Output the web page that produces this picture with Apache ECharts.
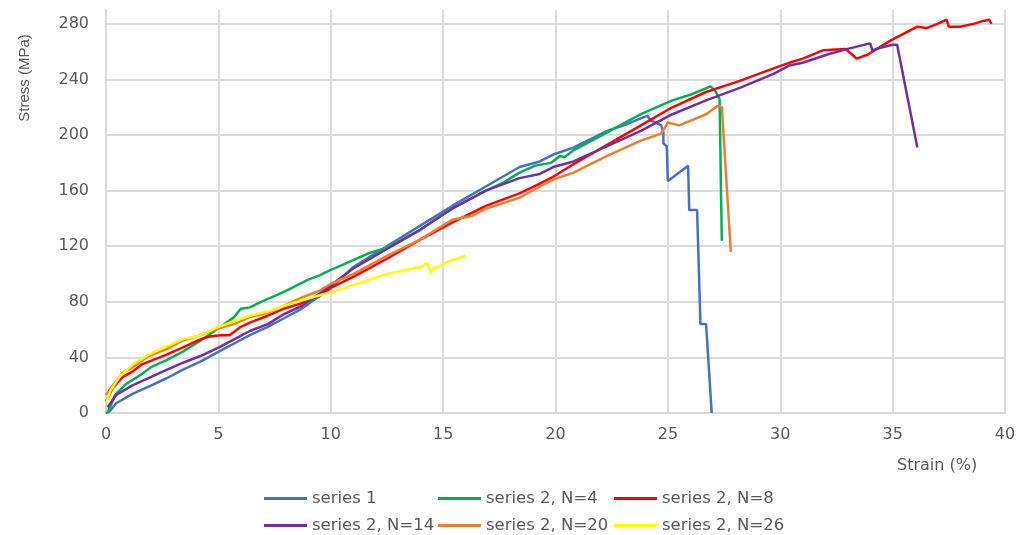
<!DOCTYPE html>
<html>
<head>
<meta charset="utf-8">
<script src="https://cdn.jsdelivr.net/npm/echarts@6/dist/echarts.min.js"></script>
<style>
html,body{margin:0;padding:0;background:#fff;}
#chart{width:1027px;height:535px;}
</style>
</head>
<body>
<div id="chart"></div>
<script>
// ---- data: [strain %, stress MPa] ----
const seriesNames = ['series 1', 'series 2, N=4', 'series 2, N=8', 'series 2, N=14', 'series 2, N=20', 'series 2, N=26'];
const xTicks = [0, 5, 10, 15, 20, 25, 30, 35, 40];
const yTicks = [0, 40, 80, 120, 160, 200, 240, 280];

const s1 = [[0,0],[0.15,1],[0.45,7],[1.2,14],[1.9,19],[2.7,25],[3.4,31],[4.2,37],[5,44],[5.7,50],[6.4,56],[7.2,62],[7.9,68],[8.7,75],[9.5,84],[10,90],[11,105],[12.5,120],[14,135],[15.4,149],[16.9,163],[18.4,177],[19.3,181],[19.9,186],[20.8,191],[22.3,203],[23.2,208],[23.8,212],[24.1,214],[24.2,211],[24.7,207],[24.8,202],[24.8,194],[24.95,192],[25.0,167],[25.9,178],[25.95,146],[26.3,146],[26.45,64],[26.7,64],[26.95,0]];
const s2n4 = [[0.07,0],[0.4,13],[0.9,21],[1.5,27],[2.0,33],[2.7,38],[3.4,44],[4.2,52],[5.0,61],[5.7,69],[6.0,75],[6.4,76],[6.9,80],[7.9,87],[9.0,96],[9.5,99],[10,103],[10.3,105],[11,110],[11.7,115],[12.5,119],[13.2,125],[14,132],[14.7,140],[15.4,147],[16.2,154],[16.9,160],[17.7,166],[18.4,173],[19.1,178],[19.8,180],[20.2,185],[20.4,184],[20.8,189],[22.3,202],[23.8,215],[25.2,225],[26.0,229],[26.9,235],[27.1,232],[27.3,226],[27.4,124]];
const s2n8 = [[0,8],[0.3,18],[0.75,26],[1.2,30],[1.6,35],[2.7,42],[3.4,47],[4.2,53],[4.6,55],[5.1,56],[5.5,56],[6.0,62],[6.4,65],[7.2,70],[7.9,75],[8.7,79],[9.5,85],[10,90],[11,98],[12.5,111],[14,125],[15.4,137],[16.9,149],[18.4,158],[19.3,165],[19.9,170],[20.8,179],[22.3,193],[23.8,207],[25.2,220],[26.7,231],[28.2,239],[29.7,248],[30.4,252],[31,255],[31.9,261],[32.9,262],[33.2,258],[33.4,255],[33.9,258],[34.4,263],[34.9,268],[35.5,273],[36.1,278],[36.5,277],[37.0,280],[37.4,283],[37.5,278],[38.0,278],[38.6,280],[39.0,282],[39.3,283],[39.4,280]];
const s2n14 = [[0.07,4],[0.45,13],[1.2,20],[2.7,31],[3.4,36],[4.2,41],[5.0,47],[5.7,53],[6.4,59],[7.2,64],[7.9,71],[8.7,77],[9.5,86],[10,92],[11,104],[12.5,118],[14,132],[15.4,147],[16.9,160],[18.4,169],[19.3,172],[19.9,177],[20.8,181],[22.3,192],[23.8,203],[25.2,215],[26.7,225],[28.2,234],[29.7,244],[30.4,250],[31,252],[32.1,258],[33,262],[34.0,266],[34.1,261],[34.5,263],[35.0,265],[35.2,265],[36.1,191]];
const s2n20 = [[0,13],[0.3,20],[0.75,29],[1.2,33],[1.9,41],[2.7,46],[3.4,52],[4.2,56],[5.0,61],[5.7,64],[6.4,69],[7.2,72],[7.9,77],[8.7,83],[9.5,88],[10,93],[11,100],[12.5,113],[14,125],[15.4,139],[16.3,142],[16.9,147],[18.4,155],[19.3,163],[19.9,168],[20.8,173],[22.3,185],[23.8,196],[24.7,201],[25.0,209],[25.5,207],[26.1,211],[26.7,215],[27.2,221],[27.4,220],[27.8,116]];
const s2n26 = [[0,7],[0.2,16],[0.6,26],[1.2,35],[1.9,42],[2.7,48],[3.4,53],[4.2,56],[5.0,62],[5.7,66],[6.4,70],[7.2,73],[7.9,77],[8.7,81],[10,87],[11,92],[12.5,100],[14,105],[14.3,108],[14.45,101],[14.6,104],[15.4,110],[16.0,113]];

const allData = [s1, s2n4, s2n8, s2n14, s2n20, s2n26];
const colors = ['#4472C4', '#00B050', '#FF0000', '#7030A0', '#ED7D31', '#FFFF00'];

const chart = echarts.init(document.getElementById('chart'), null, {renderer: 'canvas'});
const labelFont = 'DejaVu Sans';
const legendBase = {
  orient: 'vertical', top: 490, itemGap: 10, padding: 0,
  icon: 'rect', itemWidth: 43, itemHeight: 3,
  textStyle: {color: '#595959', fontSize: 16.5, fontFamily: labelFont}
};
chart.setOption({
  animation: false,
  color: colors,
  grid: {left: 106, right: 22, top: 10, bottom: 122},
  xAxis: {
    type: 'value', min: xTicks[0], max: xTicks[xTicks.length - 1], interval: 5,
    axisLine: {show: true, lineStyle: {color: '#d9d9d9', width: 2}},
    axisTick: {show: false},
    axisLabel: {color: '#595959', fontSize: 16, fontFamily: labelFont, margin: 14},
    splitLine: {show: true, lineStyle: {color: '#dcdcdc', width: 2}}
  },
  yAxis: {
    type: 'value', min: yTicks[0], max: 290, interval: 40,
    axisLine: {show: true, lineStyle: {color: '#d9d9d9', width: 2}},
    axisTick: {show: false},
    axisLabel: {color: '#595959', fontSize: 16, fontFamily: labelFont, margin: 17, showMaxLabel: false},
    splitLine: {show: true, showMaxLine: false, lineStyle: {color: '#dcdcdc', width: 2}}
  },
  legend: [
    Object.assign({left: 264, data: [seriesNames[0], seriesNames[3]]}, legendBase),
    Object.assign({left: 438, data: [seriesNames[1], seriesNames[4]]}, legendBase),
    Object.assign({left: 614, data: [seriesNames[2], seriesNames[5]]}, legendBase)
  ],
  graphic: [
    {type: 'text', x: 25, y: 78, rotation: Math.PI / 2,
      style: {text: 'Stress (MPa)', fill: '#595959', fontSize: 15, fontFamily: 'Liberation Sans', align: 'center', verticalAlign: 'middle'}},
    {type: 'text', x: 897, y: 466,
      style: {text: 'Strain (%)', fill: '#595959', fontSize: 16, fontFamily: labelFont, align: 'left', verticalAlign: 'middle'}}
  ],
  series: allData.map((d, i) => ({
    name: seriesNames[i], type: 'line', data: d, showSymbol: false, symbol: 'none',
    lineStyle: {width: 2.5, color: colors[i]}, itemStyle: {color: colors[i]}
  }))
});
</script>
</body>
</html>
